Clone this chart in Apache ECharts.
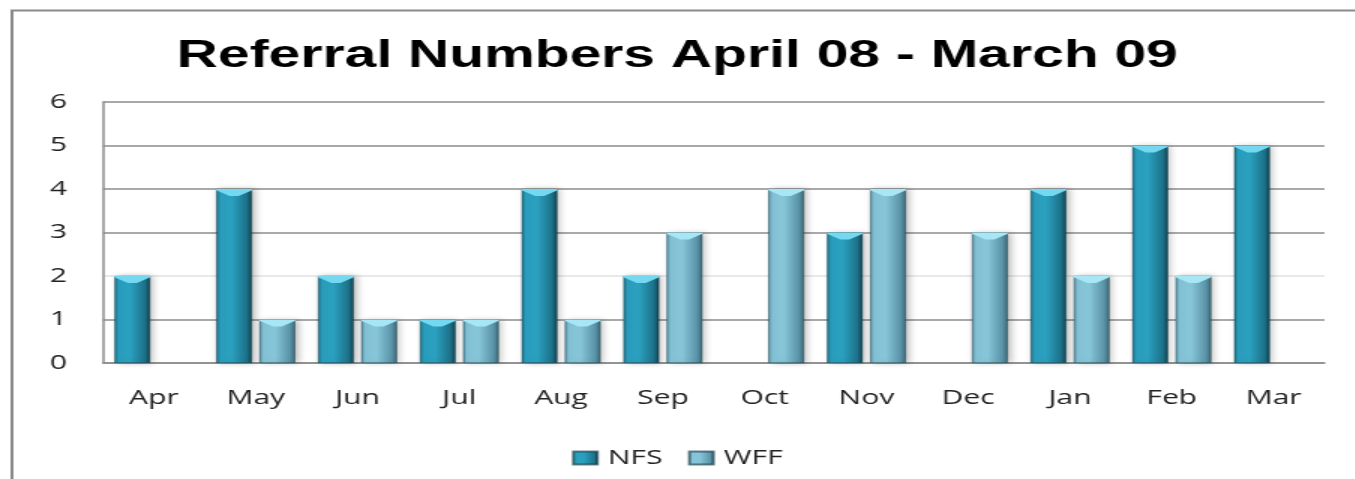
<!DOCTYPE html>
<html>
<head>
<meta charset="utf-8">
<script src="https://cdn.jsdelivr.net/npm/echarts@6/dist/echarts.min.js"></script>
<style>
  html, body { margin: 0; padding: 0; background: #fff; overflow: hidden; }
  /* the original is a horizontally stretched Excel chart, so draw narrow and stretch */
  #main { width: 903.33px; height: 479px; transform: scaleX(1.5); transform-origin: 0 0; }
</style>
</head>
<body>
<div id="main"></div>
<script>
// 数据
const months = ['Apr', 'May', 'Jun', 'Jul', 'Aug', 'Sep', 'Oct', 'Nov', 'Dec', 'Jan', 'Feb', 'Mar'];
const nfs = [2, 4, 2, 1, 4, 2, 0, 3, 0, 4, 5, 5];
const wff = [0, 1, 1, 1, 1, 3, 4, 4, 3, 2, 2, 0];
const yTicks = [0, 1, 2, 3, 4, 5, 6];

const font = '"Open Sans", sans-serif';

const grad = (edge, mid, edge2) => new echarts.graphic.LinearGradient(0, 0, 1, 0, [
  { offset: 0, color: edge },
  { offset: 0.12, color: mid },
  { offset: 0.45, color: mid },
  { offset: 0.85, color: edge },
  { offset: 1, color: edge2 }
]);
const nfsColor = grad('#1d7189', '#2a9fbe', '#12414d');
const wffColor = grad('#5a93a7', '#86c4d8', '#3d6876');

// light "V" notch at the top of every bar
const capPath = 'path://M0,0 L24,0 L24,1.5 L15,8 L9,8 L0,1.5 Z';

const barSeries = (name, data, color) => ({
  name: name,
  type: 'bar',
  data: data.map(v => v || '-'),
  barWidth: 24,
  barGap: '20%',
  itemStyle: {
    color: color,
    borderColor: 'rgba(10,50,60,0.6)',
    borderWidth: 0.7,
    shadowBlur: 5,
    shadowOffsetX: 2,
    shadowColor: 'rgba(0,0,0,0.25)'
  }
});

const capSeries = (name, data, capColor) => ({
  name: name,
  type: 'pictorialBar',
  data: data.map(v => v || '-'),
  barWidth: 24,
  barGap: '20%',
  symbol: capPath,
  symbolSize: [24, 7],
  symbolPosition: 'end',
  z: 5,
  itemStyle: { color: capColor }
});

const myChart = echarts.init(document.getElementById('main'));
myChart.setOption({
  animation: false,
  backgroundColor: '#fff',
  title: {
    text: 'Referral Numbers April 08 - March 09',
    left: 'center',
    top: 33,
    textStyle: { fontFamily: '"Liberation Sans", Arial, sans-serif', fontWeight: 'bold', fontSize: 38, color: '#000' }
  },
  graphic: [{
    type: 'rect',
    left: 5.5,
    top: 8,
    shape: { width: 1000, height: 600 },
    style: { fill: 'none', stroke: '#8a8a8a', lineWidth: 2 },
    silent: true
  }],
  legend: {
    data: ['NFS', 'WFF'],
    left: 'center',
    top: 443,
    icon: 'rect',
    itemWidth: 16,
    itemHeight: 13,
    itemGap: 17,
    textStyle: { fontFamily: font, fontSize: 20, color: '#222', padding: [0, 0, 0, 2] }
  },
  grid: { left: 68.7, right: 20, top: 102, bottom: 116 },
  xAxis: {
    type: 'category',
    data: months,
    axisLine: { lineStyle: { color: '#8c8c8c', width: 1.5 } },
    axisTick: { show: false },
    axisLabel: { margin: 25, fontFamily: font, fontSize: 20, color: '#222' }
  },
  yAxis: {
    type: 'value',
    min: yTicks[0],
    max: yTicks[yTicks.length - 1],
    interval: 1,
    axisLine: { show: true, lineStyle: { color: '#8c8c8c', width: 1.5 } },
    axisTick: { show: false },
    axisLabel: { margin: 24, fontFamily: font, fontSize: 20, color: '#222' },
    splitLine: { lineStyle: { color: ['#8c8c8c', '#8c8c8c', '#e2e2e2', '#8c8c8c', '#8c8c8c', '#8c8c8c', '#8c8c8c'], width: 1.5 } }
  },
  series: [
    barSeries('NFS', nfs, nfsColor),
    barSeries('WFF', wff, wffColor),
    capSeries('NFS top', nfs, '#74d9f0'),
    capSeries('WFF top', wff, '#a6e6f5')
  ]
});
</script>
</body>
</html>
